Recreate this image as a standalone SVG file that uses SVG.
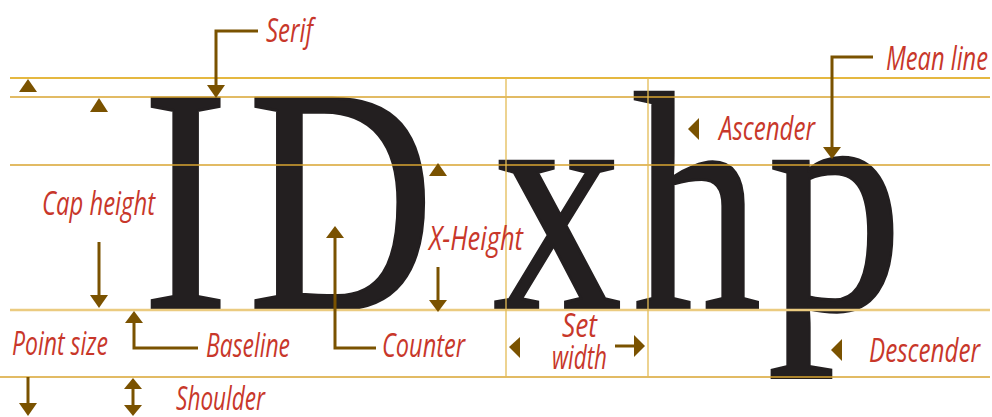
<svg xmlns="http://www.w3.org/2000/svg" width="992" height="417" viewBox="0 0 992 417">
<style>
.glyph{font-family:"Liberation Serif","Times New Roman",serif;font-size:322px;fill:#231F20;stroke:#231F20;stroke-width:3px;text-anchor:middle}
.guide{stroke:#D9A530;stroke-width:1.3;fill:none}
.top{stroke:#DCA000}
.vguide{stroke:#E3BC55;stroke-width:1.3;fill:none}
.base{stroke:#EBCB80;stroke-width:2.6;fill:none}
.lbl{font-family:"Open Sans","Liberation Sans",sans-serif;font-style:italic;font-size:24px;fill:#C8372A}
.conn{stroke:#7A5200;stroke-width:3;fill:none}
.head{fill:#7A5200;stroke:none}
</style>
<rect width="992" height="417" fill="#FFFFFF"/>
<g id="glyphs">
<text class="glyph" transform="scale(0.8,1)" x="231.9" y="309">I</text>
<text class="glyph" transform="scale(0.8,1)" x="426.5" y="309">D</text>
<text class="glyph" transform="scale(0.8,1)" x="697" y="309">x</text>
<g transform="translate(0,309) scale(1,0.97) translate(0,-309)"><text class="glyph" transform="scale(0.8,1)" x="871" y="309">h</text></g>
<g transform="translate(769,0) scale(1.05,1) translate(-769,0)"><text class="glyph" transform="scale(0.8,1)" x="1040" y="309">p</text></g>
</g>
<g id="guides">
<line class="guide top" x1="10" y1="78" x2="990" y2="78"/>
<line class="guide" x1="10" y1="97" x2="990" y2="97"/>
<line class="guide" x1="10" y1="165" x2="990" y2="165"/>
<line class="base" x1="10" y1="310" x2="990" y2="310"/>
<line class="guide" x1="0" y1="377" x2="990" y2="377"/>
<line class="vguide" x1="506" y1="78" x2="506" y2="377"/>
<line class="vguide" x1="648" y1="78" x2="648" y2="377"/>
</g>
<g id="connectors">
<path class="conn" d="M258,31 H216 V86"/>
<polygon class="head" points="207,85 225,85 216,98"/>
<polygon class="head" points="28,79 19,92 37,92"/>
<polygon class="head" points="99,98 90,112 108,112"/>
<path class="conn" d="M99,242 V296"/>
<polygon class="head" points="90,295 108,295 99,308"/>
<polygon class="head" points="134,311 125,323 143,323"/>
<path class="conn" d="M134,322 V348 H198"/>
<path class="conn" d="M28,377 V404"/>
<polygon class="head" points="19,403 37,403 28,416"/>
<path class="conn" d="M133,386 V408"/>
<polygon class="head" points="133,378 124,389 142,389"/>
<polygon class="head" points="124,405 142,405 133,416"/>
<polygon class="head" points="335,226 326,238 344,238"/>
<path class="conn" d="M335,237 V348 H376"/>
<polygon class="head" points="438,163 429,176 447,176"/>
<path class="conn" d="M438,267 V301"/>
<polygon class="head" points="429,300 447,300 438,312"/>
<polygon class="head" points="509,347 520,337 520,358"/>
<path class="conn" d="M615,346 H635"/>
<polygon class="head" points="645,346 634,335 634,357"/>
<polygon class="head" points="831,350 842,339 842,361"/>
<polygon class="head" points="688,129 699,118 699,140"/>
<path class="conn" d="M873,57 H832 V148"/>
<polygon class="head" points="823,147 841,147 832,159"/>
</g>
<g id="labels">
<g id="label-serif"><text class="lbl" transform="translate(266,42) scale(1,1.33)" textLength="47" lengthAdjust="spacingAndGlyphs">Serif</text></g>
<g id="label-meanline"><text class="lbl" transform="translate(886,70) scale(1,1.33)" textLength="102" lengthAdjust="spacingAndGlyphs">Mean line</text></g>
<g id="label-ascender"><text class="lbl" transform="translate(719,140) scale(1,1.33)" textLength="96" lengthAdjust="spacingAndGlyphs">Ascender</text></g>
<g id="label-capheight"><text class="lbl" transform="translate(42,215) scale(1,1.33)" textLength="113" lengthAdjust="spacingAndGlyphs">Cap height</text></g>
<g id="label-xheight"><text class="lbl" transform="translate(429,250) scale(1,1.33)" textLength="94" lengthAdjust="spacingAndGlyphs">X-Height</text></g>
<g id="label-counter"><text class="lbl" transform="translate(382,357) scale(1,1.33)" textLength="83" lengthAdjust="spacingAndGlyphs">Counter</text></g>
<g id="label-setwidth"><text class="lbl" transform="translate(562,337) scale(1,1.33)" textLength="35" lengthAdjust="spacingAndGlyphs">Set</text><text class="lbl" transform="translate(552,369) scale(1,1.33)" textLength="55" lengthAdjust="spacingAndGlyphs">width</text></g>
<g id="label-descender"><text class="lbl" transform="translate(869,362) scale(1,1.33)" textLength="111" lengthAdjust="spacingAndGlyphs">Descender</text></g>
<g id="label-pointsize"><text class="lbl" transform="translate(12,355) scale(1,1.33)" textLength="96" lengthAdjust="spacingAndGlyphs">Point size</text></g>
<g id="label-baseline"><text class="lbl" transform="translate(206,357) scale(1,1.33)" textLength="84" lengthAdjust="spacingAndGlyphs">Baseline</text></g>
<g id="label-shoulder"><text class="lbl" transform="translate(176,410) scale(1,1.33)" textLength="89" lengthAdjust="spacingAndGlyphs">Shoulder</text></g>
</g>
</svg>
